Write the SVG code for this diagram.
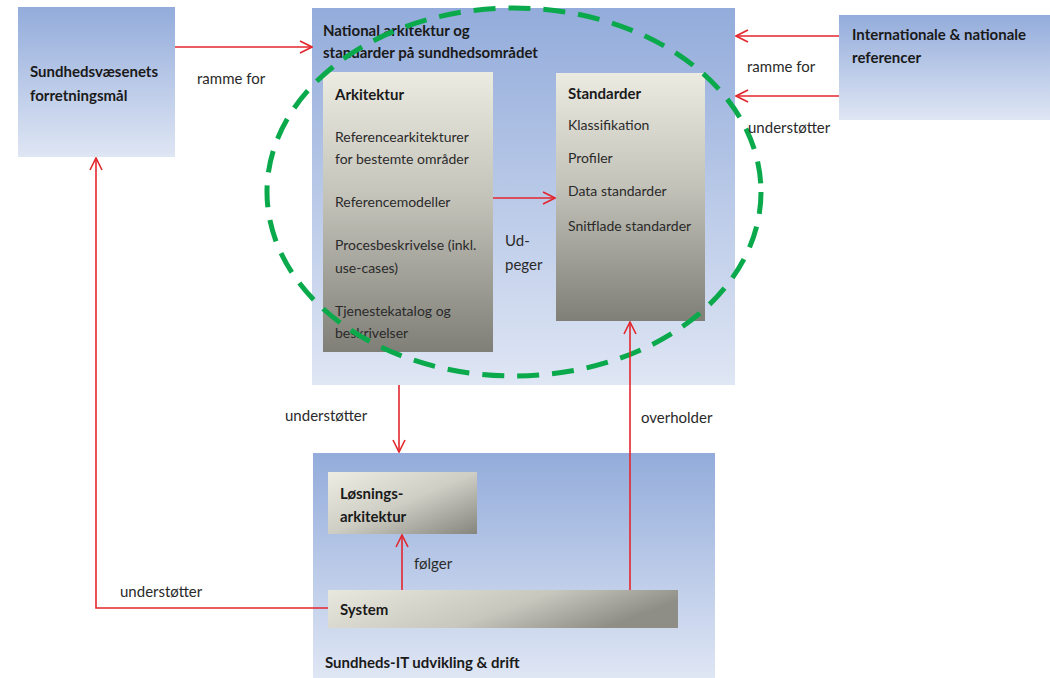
<svg xmlns="http://www.w3.org/2000/svg" width="1050" height="678" viewBox="0 0 1050 678">
<defs>
<linearGradient id="blue" x1="0" y1="0" x2="0" y2="1">
<stop offset="0" stop-color="#93acdb"/><stop offset="1" stop-color="#dfe6f4"/>
</linearGradient>
<linearGradient id="gray" x1="0" y1="0" x2="0" y2="1">
<stop offset="0" stop-color="#ecebe2"/><stop offset="0.45" stop-color="#c4c3ba"/><stop offset="1" stop-color="#7f7f77"/>
</linearGradient>
<linearGradient id="grayd" x1="0" y1="0" x2="1" y2="1">
<stop offset="0" stop-color="#eeede4"/><stop offset="0.5" stop-color="#cfcec5"/><stop offset="1" stop-color="#85857d"/>
</linearGradient>
<linearGradient id="grays" x1="0" y1="0" x2="1" y2="0.3">
<stop offset="0" stop-color="#e9e8df"/><stop offset="0.6" stop-color="#c8c7be"/><stop offset="1" stop-color="#8e8e86"/>
</linearGradient>
<marker id="ah" viewBox="0 0 14 14" refX="13" refY="7" markerWidth="14" markerHeight="14" markerUnits="userSpaceOnUse" orient="auto">
<path d="M1 1 L13 7 L1 13" fill="none" stroke="#e3262d" stroke-width="1.6"/>
</marker>
</defs>
<style>
text{font-family:Lato,"Liberation Sans",sans-serif;fill:#1a1a1a}
.b{font-weight:bold;font-size:15px}
.t{font-size:14px;fill:#2a2a2a}
.lbl{font-size:15px;fill:#2a2a2a}
.ln{fill:none;stroke:#e3262d;stroke-width:1.6}
</style>
<rect width="1050" height="678" fill="#ffffff"/>

<g id="forretningsmaal">
<rect x="18" y="7" width="157" height="150" fill="url(#blue)"/>
<text class="b" x="30" y="77">Sundhedsvæsenets</text>
<text class="b" x="30" y="101">forretningsmål</text>
</g>

<g id="national">
<rect x="312" y="8" width="423" height="377" fill="url(#blue)"/>
<text class="b" x="323" y="36">National arkitektur og</text>
<text class="b" x="323" y="58">standarder på sundhedsområdet</text>
</g>

<g id="arkitektur">
<rect x="323" y="72" width="170" height="280" fill="url(#gray)"/>
<text class="b" x="335" y="100">Arkitektur</text>
<text class="t" x="335" y="142">Referencearkitekturer</text>
<text class="t" x="335" y="164">for bestemte områder</text>
<text class="t" x="335" y="207">Referencemodeller</text>
<text class="t" x="335" y="250">Procesbeskrivelse (inkl.</text>
<text class="t" x="335" y="273">use-cases)</text>
<text class="t" x="335" y="316">Tjenestekatalog og</text>
<text class="t" x="335" y="338">beskrivelser</text>
</g>

<g id="standarder">
<rect x="556" y="73" width="149" height="248" fill="url(#gray)"/>
<text class="b" x="568" y="99">Standarder</text>
<text class="t" x="568" y="130">Klassifikation</text>
<text class="t" x="568" y="163">Profiler</text>
<text class="t" x="568" y="196">Data standarder</text>
<text class="t" x="568" y="231">Snitflade standarder</text>
</g>

<g id="referencer">
<rect x="839" y="15" width="211" height="105" fill="url(#blue)"/>
<text class="b" x="852" y="40">Internationale &amp; nationale</text>
<text class="b" x="852" y="63">referencer</text>
</g>

<g id="sundhedsit">
<rect x="313" y="453" width="402" height="225" fill="url(#blue)"/>
<text class="b" x="325" y="668">Sundheds-IT udvikling &amp; drift</text>
</g>

<g id="loesning">
<rect x="328" y="472" width="149" height="62" fill="url(#grayd)"/>
<text class="b" x="340" y="499">Løsnings-</text>
<text class="b" x="340" y="522">arkitektur</text>
</g>

<g id="system">
<rect x="328" y="590" width="350" height="38" fill="url(#grays)"/>
<text class="b" x="340" y="615">System</text>
</g>

<g id="ellipse">
<ellipse cx="514" cy="192" rx="247" ry="184" fill="none" stroke="#0aaa4c" stroke-width="5" stroke-dasharray="22 13"/>
</g>

<g id="connectors">
<path class="ln" d="M175 47 L312 47" marker-end="url(#ah)"/>
<path class="ln" d="M839 36 L736 36" marker-end="url(#ah)"/>
<path class="ln" d="M839 96 L736 96" marker-end="url(#ah)"/>
<path class="ln" d="M493 198 L555 198" marker-end="url(#ah)"/>
<path class="ln" d="M399 385 L399 452" marker-end="url(#ah)"/>
<path class="ln" d="M402 590 L402 535" marker-end="url(#ah)"/>
<path class="ln" d="M630 590 L630 322" marker-end="url(#ah)"/>
<path class="ln" d="M328 608 L96 608 L96 158" stroke="#cc2a35" marker-end="url(#ah)"/>
</g>

<g id="labels">
<text class="lbl" x="197" y="84">ramme for</text>
<text class="lbl" x="747" y="72">ramme  for</text>
<text class="lbl" x="748" y="133">understøtter</text>
<text class="lbl" x="505" y="246">Ud-</text>
<text class="lbl" x="505" y="270">peger</text>
<text class="lbl" x="285" y="421">understøtter</text>
<text class="lbl" x="641" y="423">overholder</text>
<text class="lbl" x="414" y="569">følger</text>
<text class="lbl" x="120" y="597">understøtter</text>
</g>
</svg>
